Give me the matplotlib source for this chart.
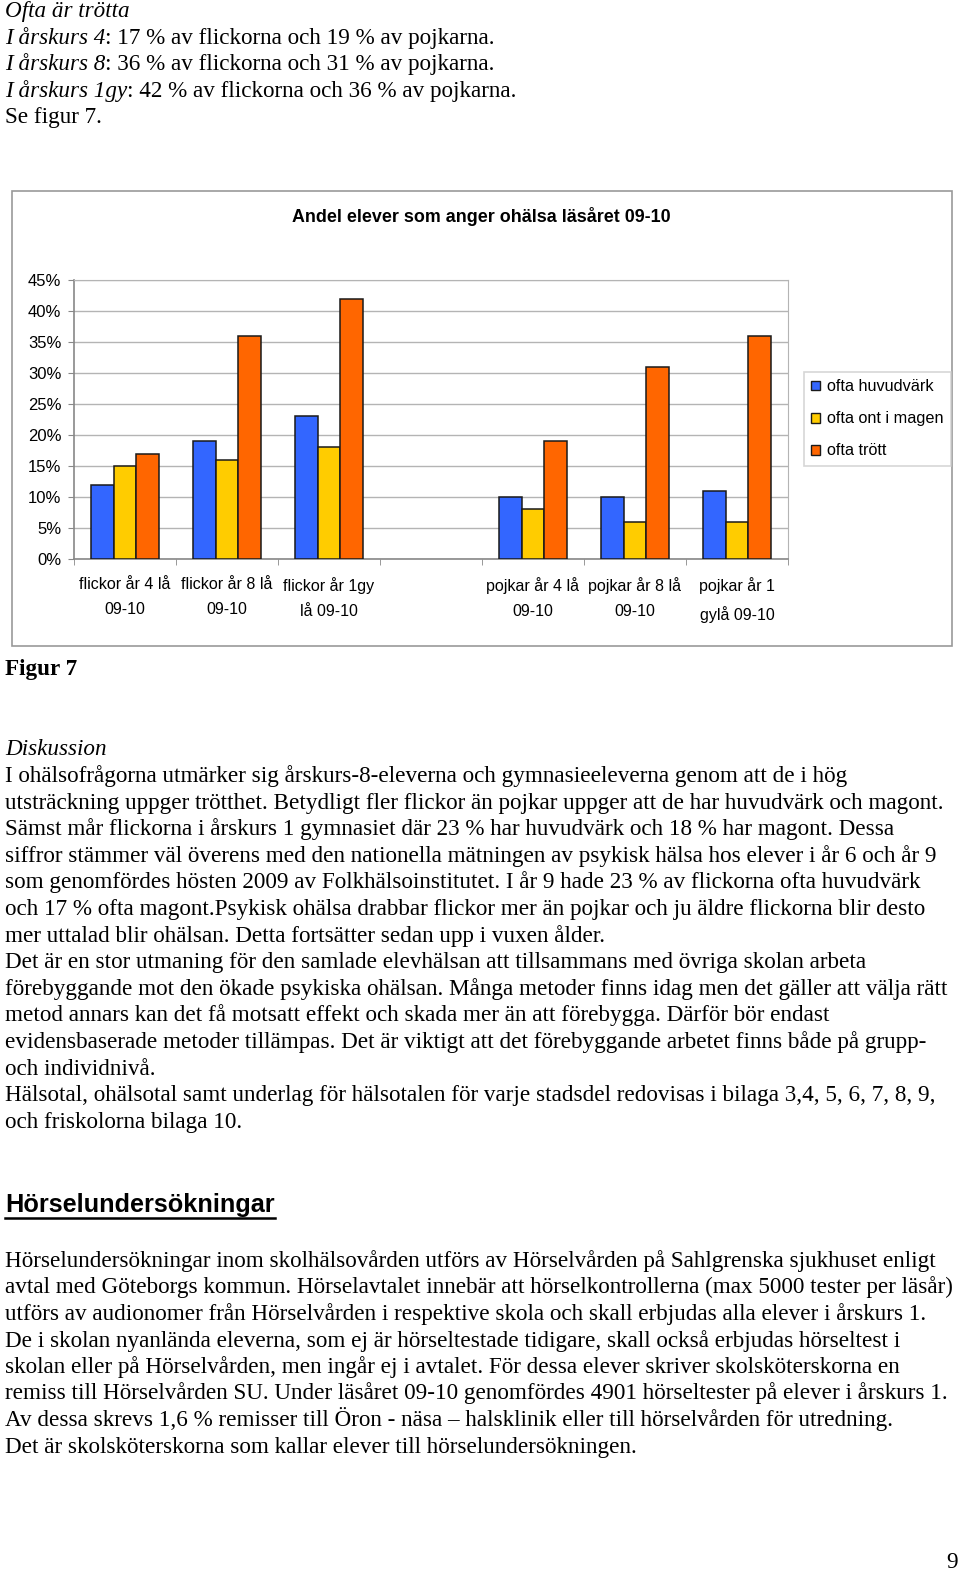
import matplotlib
matplotlib.use("Agg")
import matplotlib.pyplot as plt
from matplotlib.patches import Patch, Rectangle
from matplotlib.lines import Line2D
import numpy as np

W, H = 960, 1572

# data
categories = ["flickor år 4 lå\n09-10", "flickor år 8 lå\n09-10", "flickor år 1gy\nlå 09-10", "",
              "pojkar år 4 lå\n09-10", "pojkar år 8 lå\n09-10", "pojkar år 1\ngylå 09-10"]
huvudvark = [12, 19, 23, np.nan, 10, 10, 11]
ont_i_magen = [15, 16, 18, np.nan, 8, 6, 6]
trott = [17, 36, 42, np.nan, 19, 31, 36]
series_names = ["ofta huvudvärk", "ofta ont i magen", "ofta trött"]
yticks = [0, 5, 10, 15, 20, 25, 30, 35, 40, 45]

title = "Andel elever som anger ohälsa läsåret 09-10"

intro = [
    [("Ofta är trötta", "italic")],
    [("I årskurs 4", "italic"), (": 17 % av flickorna och 19 % av pojkarna.", "normal")],
    [("I årskurs 8", "italic"), (": 36 % av flickorna och 31 % av pojkarna.", "normal")],
    [("I årskurs 1gy", "italic"), (": 42 % av flickorna och 36 % av pojkarna.", "normal")],
    [("Se figur 7.", "normal")],
]

diskussion = [
    "I ohälsofrågorna utmärker sig årskurs-8-eleverna och gymnasieeleverna genom att de i hög",
    "utsträckning uppger trötthet. Betydligt fler flickor än pojkar uppger att de har huvudvärk och magont.",
    "Sämst mår flickorna i årskurs 1 gymnasiet där 23 % har huvudvärk och 18 % har magont. Dessa",
    "siffror stämmer väl överens med den nationella mätningen av psykisk hälsa hos elever i år 6 och år 9",
    "som genomfördes hösten 2009 av Folkhälsoinstitutet. I år 9 hade 23 % av flickorna ofta huvudvärk",
    "och 17 % ofta magont.Psykisk ohälsa drabbar flickor mer än pojkar och ju äldre flickorna blir desto",
    "mer uttalad blir ohälsan. Detta fortsätter sedan upp i vuxen ålder.",
    "Det är en stor utmaning för den samlade elevhälsan att tillsammans med övriga skolan arbeta",
    "förebyggande mot den ökade psykiska ohälsan. Många metoder finns idag men det gäller att välja rätt",
    "metod annars kan det få motsatt effekt och skada mer än att förebygga. Därför bör endast",
    "evidensbaserade metoder tillämpas. Det är viktigt att det förebyggande arbetet finns både på grupp-",
    "och individnivå.",
    "Hälsotal, ohälsotal samt underlag för hälsotalen för varje stadsdel redovisas i bilaga 3,4, 5, 6, 7, 8, 9,",
    "och friskolorna bilaga 10.",
]

horsel = [
    "Hörselundersökningar inom skolhälsovården utförs av Hörselvården på Sahlgrenska sjukhuset enligt",
    "avtal med Göteborgs kommun. Hörselavtalet innebär att hörselkontrollerna (max 5000 tester per läsår)",
    "utförs av audionomer från Hörselvården i respektive skola och skall erbjudas alla elever i årskurs 1.",
    "De i skolan nyanlända eleverna, som ej är hörseltestade tidigare, skall också erbjudas hörseltest i",
    "skolan eller på Hörselvården, men ingår ej i avtalet. För dessa elever skriver skolsköterskorna en",
    "remiss till Hörselvården SU. Under läsåret 09-10 genomfördes 4901 hörseltester på elever i årskurs 1.",
    "Av dessa skrevs 1,6 % remisser till Öron - näsa – halsklinik eller till hörselvården för utredning.",
    "Det är skolsköterskorna som kallar elever till hörselundersökningen.",
]

serif = "Liberation Serif"
sans = "Liberation Sans"
body_size = 16.7
line_h = 26.6

fig = plt.figure(figsize=(W / 100, H / 100), dpi=100)
renderer = fig.canvas.get_renderer()


def fx(x):
    return x / W


def fy(y):
    return 1 - y / H


def put_line(x, y, parts, size=body_size, weight="normal"):
    for txt, style in parts:
        t = fig.text(fx(x), fy(y), txt, family=serif, style=style, weight=weight,
                     fontsize=size, va="baseline", ha="left")
        bb = t.get_window_extent(renderer)
        x += bb.width


# intro text
for i, parts in enumerate(intro):
    put_line(5, 17 + i * line_h, parts)

# chart frame
fig.patches.append(Rectangle((fx(12), fy(646)), fx(952) - fx(12), fy(191) - fy(646),
                             transform=fig.transFigure, fill=False, edgecolor="#999999", lw=1.2))
fig.text(fx(481), fy(222), title, family=sans, weight="bold", fontsize=12.9,
         ha="center", va="baseline")

ax = fig.add_axes([fx(74), fy(559), fx(788) - fx(74), fy(280) - fy(559)])
x = np.arange(len(categories)) + 0.5
w = 0.222
colors = ["#3366FF", "#FFCC00", "#FF6600"]
for k, vals in enumerate([huvudvark, ont_i_magen, trott]):
    ax.bar(x + (k - 1) * w, vals, width=w, color=colors[k], edgecolor="#1a1a1a",
           lw=1.1, zorder=3)

ax.set_xlim(0, len(categories))
ax.set_ylim(0, 45)
ax.set_yticks(yticks)
ax.set_yticklabels([f"{v}%" for v in yticks], family=sans, fontsize=12)
ax.yaxis.grid(True, color="#b4b4b4", lw=1)
ax.set_axisbelow(True)
ax.set_xticks(x)
ax.set_xticklabels(categories, family=sans, fontsize=11.5, linespacing=1.85)
ax.set_xticks(np.arange(len(categories) + 1), minor=True)
ax.tick_params(axis="x", which="major", length=0, pad=13)
ax.tick_params(axis="x", which="minor", length=4, color="#888888")
ax.tick_params(axis="y", length=4, color="#888888", pad=5)
for s in ["top", "right"]:
    ax.spines[s].set_color("#b4b4b4")
for s in ["left", "bottom"]:
    ax.spines[s].set_color("#888888")
    ax.spines[s].set_linewidth(1.2)

handles = [Patch(facecolor=c, edgecolor="#1a1a1a", lw=1) for c in colors]
leg = fig.legend(handles, series_names, loc="upper left",
                 bbox_to_anchor=(fx(804), fy(372)), bbox_transform=fig.transFigure,
                 prop={"family": sans, "size": 11.7}, frameon=True, fancybox=False,
                 edgecolor="#cccccc", handlelength=0.55, handleheight=0.55,
                 handletextpad=0.4, labelspacing=1.05, borderpad=0.45,
                 borderaxespad=0)
leg.get_frame().set_linewidth(1.2)

# caption
fig.text(fx(5), fy(675), "Figur 7", family=serif, weight="bold", fontsize=body_size,
         va="baseline")

# discussion
put_line(5, 755.4, [("Diskussion", "italic")])
for i, line in enumerate(diskussion):
    put_line(5, 782 + i * line_h, [(line, "normal")])

# heading
hd = fig.text(fx(5), fy(1212), "Hörselundersökningar", family=sans, weight="bold",
              fontsize=18.2, va="baseline")
bb = hd.get_window_extent(renderer)
fig.lines.append(Line2D([fx(5), fx(5 + bb.width)], [fy(1218), fy(1218)],
                        transform=fig.transFigure, color="black", lw=1.8))

for i, line in enumerate(horsel):
    put_line(5, 1267 + i * 26.5, [(line, "normal")])

fig.text(fx(958), fy(1568), "9", family=serif, fontsize=body_size, ha="right",
         va="baseline")

fig.savefig("out.png", dpi=100)
